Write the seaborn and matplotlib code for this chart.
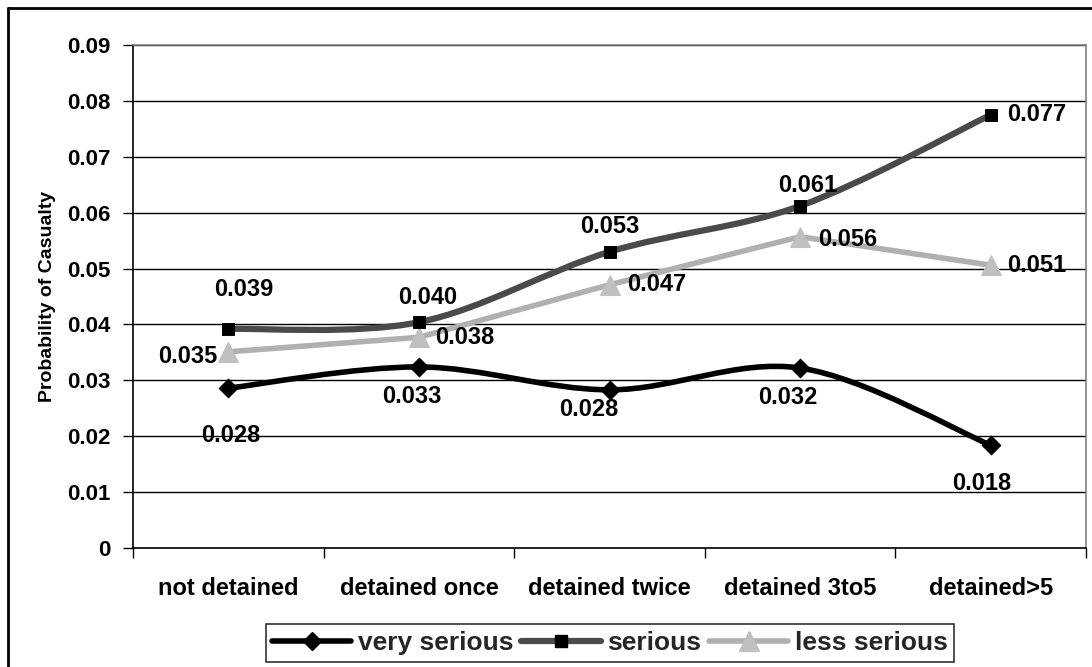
import numpy as np
import pandas as pd
import matplotlib
matplotlib.use('Agg')
import matplotlib.pyplot as plt
from matplotlib.path import Path
from matplotlib.patches import PathPatch
from matplotlib.lines import Line2D
import seaborn as sns

#****************************************************************************
# data
#****************************************************************************

categories = ['not detained', 'detained once', 'detained twice',
              'detained 3to5', 'detained>5']

very_serious = [0.0286, 0.0324, 0.0283, 0.0322, 0.0184]
serious = [0.0392, 0.0404, 0.0530, 0.0612, 0.0775]
less_serious = [0.0351, 0.0377, 0.0471, 0.0557, 0.0506]

very_serious_lbl = ['0.028', '0.033', '0.028', '0.032', '0.018']
serious_lbl = ['0.039', '0.040', '0.053', '0.061', '0.077']
less_serious_lbl = ['0.035', '0.038', '0.047', '0.056', '0.051']

ytick_vals = [0, 0.01, 0.02, 0.03, 0.04, 0.05, 0.06, 0.07, 0.08, 0.09]
ytick_lbls = ['0', '0.01', '0.02', '0.03', '0.04', '0.05', '0.06', '0.07',
              '0.08', '0.09']

# label offsets in pixels (dx, dy), as Excel placed them
vs_off = [(2, -47), (-7, -30), (-21, -20), (-12, -29), (-9, -38)]
s_off = [(15, 39), (9, 25), (0, 25), (8, 20), (46, 0)]
ls_off = [(-41, -5), (46, 0), (47, 0), (48, -3), (46, 0)]


#****************************************************************************

def smooth_path(xs, ys):
    # Excel-like smoothed line: cubic bezier through the points
    P = list(zip(xs, ys))
    n = len(P)
    verts = [P[0]]
    codes = [Path.MOVETO]
    for i in range(n - 1):
        p0 = np.array(P[max(i - 1, 0)])
        p1 = np.array(P[i])
        p2 = np.array(P[i + 1])
        p3 = np.array(P[min(i + 2, n - 1)])
        c1 = p1 + (p2 - p0) / 6.0
        c2 = p2 - (p3 - p1) / 6.0
        verts += [tuple(c1), tuple(c2), tuple(p2)]
        codes += [Path.CURVE4, Path.CURVE4, Path.CURVE4]
    return Path(verts, codes)


def main():
    sns.set_theme(style='white')
    plt.rcParams['font.family'] = ['Liberation Sans', 'DejaVu Sans']
    plt.rcParams['font.weight'] = 'bold'

    fig = plt.figure(figsize=(10.92, 6.67), dpi=100)
    ax = fig.add_axes([133 / 1092, 1 - 548 / 667, (1086 - 133) / 1092,
                       (548 - 45) / 667])

    xs = list(range(len(categories)))
    dfrm = pd.DataFrame({'x': xs, 'very serious': very_serious,
                         'serious': serious, 'less serious': less_serious})

    c_vs = 'black'
    c_s = '#4a4a4a'
    c_ls = '#b0b0b0'
    c_ls_m = '#c0c0c0'

    # smoothed lines
    ax.add_patch(PathPatch(smooth_path(xs, very_serious), fill=False,
                           edgecolor=c_vs, lw=4, zorder=3))
    ax.add_patch(PathPatch(smooth_path(xs, serious), fill=False,
                           edgecolor=c_s, lw=4.5, zorder=3))
    # straight line
    sns.lineplot(data=dfrm, x='x', y='less serious', ax=ax, color=c_ls,
                 lw=4, zorder=3, marker='^', markersize=14,
                 markerfacecolor=c_ls_m, markeredgecolor=c_ls_m)

    sns.scatterplot(data=dfrm, x='x', y='very serious', ax=ax, marker='D',
                    s=90, color='black', edgecolor='black', zorder=4)
    sns.scatterplot(data=dfrm, x='x', y='serious', ax=ax, marker='s',
                    s=70, color='black', edgecolor='black', zorder=4)

    # data labels
    for vals, lbls, offs in [(very_serious, very_serious_lbl, vs_off),
                             (serious, serious_lbl, s_off),
                             (less_serious, less_serious_lbl, ls_off)]:
        for i in range(len(vals)):
            ax.annotate(lbls[i], (xs[i], vals[i]), xytext=offs[i],
                        textcoords='offset pixels', ha='center',
                        va='center', fontsize=17, fontweight='bold',
                        color='black', zorder=5)

    # axes
    ax.set_xlim(-0.5, len(categories) - 0.5)
    ax.set_ylim(0, 0.09)
    ax.set_yticks(ytick_vals)
    ax.set_yticklabels(ytick_lbls, fontsize=16, fontweight='bold')
    ax.set_xticks(xs)
    ax.set_xticklabels(categories, fontsize=17, fontweight='bold')
    ax.set_xticks([x - 0.5 for x in range(len(categories) + 1)], minor=True)
    ax.tick_params(axis='x', which='major', length=0, pad=21, colors='black')
    ax.tick_params(axis='x', which='minor', length=7, width=1,
                   direction='out', color='black', bottom=True)
    ax.tick_params(axis='y', which='major', length=7, width=1,
                   direction='out', pad=9, colors='black', left=True)
    ax.set_xlabel('')
    ax.set_ylabel('Probability of Casualty', fontsize=14, fontweight='bold',
                  labelpad=8, color='black')

    ax.grid(False)
    for y in ytick_vals[1:]:
        ax.axhline(y, color='black', lw=1, zorder=1)
    ax.spines['left'].set_color('black')
    ax.spines['bottom'].set_color('black')
    ax.spines['top'].set_color('#808080')
    ax.spines['right'].set_color('#808080')
    for s in ax.spines.values():
        s.set_linewidth(1.2)

    # legend
    handles = [
        Line2D([], [], color=c_vs, lw=4, marker='D', ms=9,
               markerfacecolor='black', markeredgecolor='black'),
        Line2D([], [], color=c_s, lw=4.5, marker='s', ms=8,
               markerfacecolor='black', markeredgecolor='black'),
        Line2D([], [], color=c_ls, lw=4, marker='^', ms=14,
               markerfacecolor=c_ls_m, markeredgecolor=c_ls_m),
    ]
    leg = fig.legend(handles, ['very serious', 'serious', 'less serious'],
                     loc='center', bbox_to_anchor=(610 / 1092, 1 - 643 / 667),
                     ncol=3, frameon=True, fancybox=False, handlelength=3.0,
                     columnspacing=0.3, handletextpad=0.25, borderpad=0.25,
                     prop={'size': 19, 'weight': 'bold'})
    leg.get_frame().set_edgecolor('black')
    leg.get_frame().set_linewidth(1.2)

    # outer chart border
    fig.add_artist(Line2D([8 / 1092, 8 / 1092], [-0.1, 1 - 8 / 667],
                          color='black', lw=2, transform=fig.transFigure))
    fig.add_artist(Line2D([8 / 1092, 1.1], [1 - 8 / 667, 1 - 8 / 667],
                          color='black', lw=2, transform=fig.transFigure))

    fig.savefig('out.png', dpi=100, facecolor='white')


#****************************************************************************

if (__name__ == "__main__"):
    main()
